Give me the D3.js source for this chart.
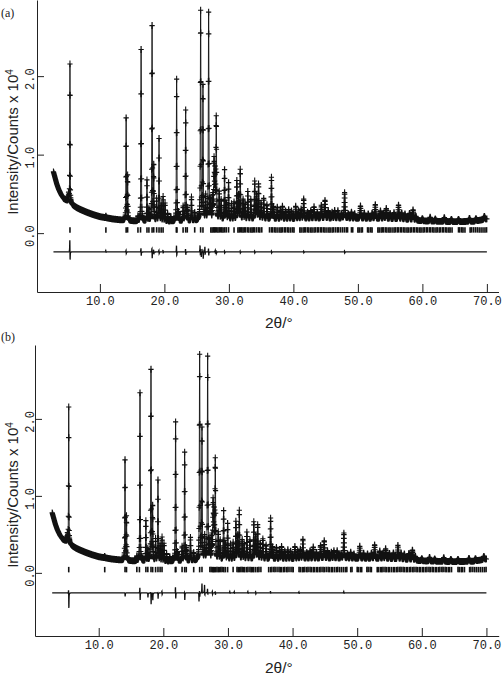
<!DOCTYPE html>
<html>
<head>
<meta charset="utf-8">
<script src="https://cdn.jsdelivr.net/npm/d3@7"></script>
<style>
  body { margin: 0; background: #fff; }
  svg { display: block; }
</style>
</head>
<body>
<script>
// peaks: 2theta (deg) and height above background (x 10^4 counts)
const peakTheta = [5.15, 5.36, 10.93, 14.07, 14.30, 15.90, 16.39, 17.30, 17.60, 18.09, 18.35, 18.80, 19.17, 19.50, 19.80,
  20.10, 20.50, 21.00, 21.90, 22.20, 22.90, 23.30, 23.55, 24.20, 24.70, 25.62, 25.98, 26.40, 26.86, 27.20, 27.50, 27.70,
  27.85, 28.04, 28.50, 28.80, 29.33, 29.60, 29.95, 30.40, 30.80, 31.23, 31.50, 31.76, 32.20, 32.50, 32.93, 33.40, 34.00,
  34.30, 34.60, 35.00, 35.40, 35.90, 36.60, 36.90, 37.50, 38.00, 38.30, 38.80, 39.27, 39.70, 40.36, 40.80, 41.20, 41.60,
  42.20, 42.70, 43.20, 43.70, 44.33, 44.90, 45.40, 46.00, 46.40, 46.90, 47.50, 47.94, 48.50, 49.00, 49.50, 50.40, 51.00,
  51.60, 52.20, 52.70, 53.50, 54.00, 54.40, 55.00, 55.60, 56.30, 56.80, 57.30, 58.00, 58.55, 59.00, 60.00, 61.20, 62.00,
  63.40, 64.50, 65.60, 67.30, 68.30, 69.60];
const peakHeight = [0.10, 1.76, 0.02, 1.36, 0.56, 0.06, 2.28, 0.52, 0.15, 2.58, 0.71, 0.28, 1.09, 0.22, 0.31,
  0.23, 0.10, 0.06, 1.81, 0.10, 0.18, 1.41, 0.15, 0.30, 0.10, 2.66, 1.70, 0.30, 2.64, 0.25, 0.30, 0.74,
  0.60, 1.29, 0.35, 0.25, 0.65, 0.20, 0.48, 0.20, 0.22, 0.50, 0.30, 0.63, 0.25, 0.20, 0.36, 0.25, 0.48,
  0.30, 0.44, 0.20, 0.26, 0.18, 0.53, 0.15, 0.15, 0.10, 0.16, 0.10, 0.12, 0.10, 0.16, 0.10, 0.12, 0.25,
  0.08, 0.10, 0.15, 0.08, 0.17, 0.23, 0.10, 0.08, 0.10, 0.10, 0.06, 0.33, 0.06, 0.08, 0.06, 0.16, 0.07,
  0.06, 0.07, 0.18, 0.10, 0.07, 0.13, 0.07, 0.08, 0.18, 0.08, 0.07, 0.08, 0.13, 0.05, 0.03, 0.05, 0.03,
  0.05, 0.03, 0.03, 0.04, 0.03, 0.04];

// background level read at a few angles
const bgTheta = [2.8, 3.0, 3.3, 3.6, 4.0, 4.4, 4.8, 5.3, 5.6, 6.0, 6.5, 7.0, 8.0, 9.0, 10.0, 11.0, 12.0, 13.0, 14.0,
  16.0, 20.0, 25.0, 30.0, 35.0, 40.0, 45.0, 50.0, 55.0, 58.0, 60.0, 62.0, 65.0, 68.0, 70.0];
const bgValue = [0.78, 0.72, 0.63, 0.56, 0.49, 0.44, 0.42, 0.40, 0.37, 0.345, 0.32, 0.30, 0.265, 0.235, 0.21, 0.195,
  0.18, 0.17, 0.16, 0.15, 0.145, 0.155, 0.165, 0.175, 0.18, 0.185, 0.185, 0.18, 0.17, 0.155, 0.15, 0.145, 0.15, 0.18];

// reflection markers
const reflections = [5.36, 10.93, 14.07, 14.30, 15.90, 16.30, 17.30, 17.60, 18.09, 18.35, 18.80, 19.17, 19.50, 19.80,
  21.85, 21.95, 22.90, 23.30, 23.55, 24.70, 25.62, 25.98, 27.20, 27.40, 27.60, 27.75, 27.90, 28.10, 28.30, 28.50, 28.70,
  28.90, 29.10, 29.35, 29.60, 29.95, 30.80, 31.40, 31.60, 31.80, 32.00, 32.20, 32.40, 32.60, 32.90, 33.10, 33.40, 33.60,
  33.80, 34.00, 34.30, 34.60, 34.80, 35.10, 36.30, 36.60, 36.80, 37.10, 37.30, 37.60, 37.90, 38.10, 38.30, 38.60, 38.80,
  39.10, 39.30, 39.60, 39.90, 40.10, 41.00, 41.20, 41.50, 41.70, 41.90, 42.20, 42.40, 42.70, 42.90, 43.20, 43.40, 43.70,
  43.90, 44.20, 44.40, 44.70, 44.90, 45.20, 45.50, 45.70, 46.00, 46.20, 46.50, 46.80, 47.00, 47.30, 47.60, 47.90, 48.20,
  48.40, 49.00, 49.20, 50.00, 50.20, 50.50, 50.70, 51.50, 51.70, 52.00, 52.20, 53.10, 53.30, 53.60, 53.80, 54.00, 54.30,
  54.50, 54.80, 55.00, 55.30, 55.60, 55.80, 56.10, 56.30, 56.60, 56.80, 57.10, 57.30, 57.60, 57.80, 58.10, 58.30, 58.60,
  58.80, 59.10, 59.30, 59.60, 59.80, 60.10, 60.30, 60.60, 60.80, 61.10, 61.30, 61.60, 61.80, 62.10, 62.30, 62.60, 62.80,
  63.10, 63.30, 63.60, 63.80, 64.10, 64.30, 64.60, 65.60, 65.80, 66.10, 66.30, 66.60, 67.40, 67.60, 67.90, 68.20, 68.50,
  68.80, 69.10, 69.40, 69.70, 69.95];

// difference curve spikes (obs - calc), panel (a) and (b)
const residThetaA = [5.36, 10.93, 14.07, 16.39, 18.09, 18.35, 19.17, 19.80, 21.90, 23.30, 25.55, 25.70, 26.00, 26.30,
  26.86, 27.90, 28.04, 29.33, 31.76, 34.00, 36.60, 41.60, 47.94];
const residUpA = [0.19, 0.02, 0.03, 0.065, 0.07, 0.04, 0.03, 0.03, 0.10, 0.05, 0.10, 0.06, 0.05, 0.08, 0.06, 0.03, 0.03,
  0.02, 0.02, 0.02, 0.02, 0.015, 0.02];
const residDownA = [0.15, 0.01, 0.03, 0.065, 0.10, 0.04, 0.03, 0.02, 0.07, 0.05, 0.06, 0.08, 0.10, 0.05, 0.06, 0.03, 0.03,
  0.02, 0.02, 0.02, 0.02, 0.015, 0.02];
const residThetaB = [5.36, 14.07, 16.39, 17.60, 18.09, 18.35, 19.17, 19.80, 21.90, 23.30, 25.50, 25.62, 26.00, 26.40,
  26.86, 27.60, 28.04, 30.30, 31.00, 33.10, 34.30, 36.60, 41.00, 47.94];
const residUpB = [0.09, 0.01, 0.10, 0.01, 0.05, 0.02, 0.02, 0.03, 0.10, 0.03, 0.02, 0.05, 0.13, 0.12, 0.06, 0.03, 0.02,
  0.02, 0.02, 0.02, 0.02, 0.025, 0.015, 0.02];
const residDownB = [0.22, 0.05, 0.12, 0.06, 0.16, 0.10, 0.08, 0.03, 0.10, 0.10, 0.12, 0.06, 0.03, 0.06, 0.03, 0.03, 0.03,
  0.01, 0.01, 0.01, 0.02, 0.01, 0.01, 0.01];

const xTicks = [10, 20, 30, 40, 50, 60, 70];
const yTicks = [0, 1, 2];

const W = 504, H = 692;
const svg = d3.select('body').append('svg')
    .attr('width', W)
    .attr('height', H);

const bg = d3.scaleLinear().domain(bgTheta).range(bgValue).clamp(true);
const fwhm = t => 0.06 + 0.0018 * t;
function pv(dx, w) {
  const q = 4 * dx * dx / (w * w);
  return 0.5 / (1 + q) + 0.5 * Math.exp(-Math.LN2 * q);
}
function profile(t) {
  let v = bg(t);
  const w = fwhm(t);
  for (let i = 0; i < peakTheta.length; i++) {
    const dx = t - peakTheta[i];
    if (Math.abs(dx) < 3) v += peakHeight[i] * pv(dx, w);
  }
  return v;
}
const obs = d3.range(2.8, 70.001, 0.02).map(t => ({ t, v: profile(t) }));

function diffCurve(thetas, ups, downs, base) {
  const lor = dx => 1 / (1 + 4 * dx * dx / (0.05 * 0.05));
  return d3.range(2.8, 70.001, 0.01).map(t => {
    let v = base;
    for (let i = 0; i < thetas.length; i++) {
      v += ups[i] * lor(t - thetas[i] + 0.02) - downs[i] * lor(t - thetas[i] - 0.02);
    }
    return { t, v };
  });
}

const panels = [
  { tag: '(a)', tagY: 17, top: 0, bottom: 292, left: 37, right: 498.5, tMin: 0.25, tMax: 71.8,
    vTop: 2.97, vBottom: -0.75, diffBase: -0.24, yTitleY: 142, xTitleY: 328,
    rt: residThetaA, ru: residUpA, rd: residDownA },
  { tag: '(b)', tagY: 341, top: 345, bottom: 636, left: 35, right: 498.7, tMin: 0.14, tMax: 71.9,
    vTop: 2.96, vBottom: -0.82, diffBase: -0.26, yTitleY: 495, xTitleY: 673,
    rt: residThetaB, ru: residUpB, rd: residDownB }
];

panels.forEach(p => {
  const x = d3.scaleLinear().domain([p.tMin, p.tMax]).range([p.left, p.right]);
  const y = d3.scaleLinear().domain([p.vBottom, p.vTop]).range([p.bottom, p.top]);
  const g = svg.append('g');

  // axes
  g.append('g')
      .attr('transform', `translate(0,${p.bottom})`)
      .call(d3.axisBottom(x).tickValues(xTicks).tickSizeInner(-8).tickSizeOuter(0).tickPadding(4)
        .tickFormat(d3.format('.1f')))
      .call(a => a.selectAll('text')
        .attr('font-family', '"Liberation Mono", monospace')
        .attr('font-size', '12px')
        .attr('fill', '#222'))
      .call(a => a.selectAll('line,path').attr('stroke', '#222'));

  g.append('g')
      .attr('transform', `translate(${p.left},0)`)
      .call(d3.axisLeft(y).tickValues(yTicks).tickSizeInner(-7).tickSizeOuter(0).tickFormat(''))
      .call(a => a.selectAll('line,path').attr('stroke', '#222'));

  g.selectAll('text.ytick')
    .data(yTicks)
    .join('text')
      .attr('class', 'ytick')
      .attr('transform', d => `translate(34,${y(d) + 3}) rotate(-90)`)
      .attr('text-anchor', 'middle')
      .attr('font-family', '"Liberation Mono", monospace')
      .attr('font-size', '12px')
      .attr('fill', '#222')
      .text(d3.format('.1f'));

  // titles
  const yt = g.append('text')
      .attr('transform', `translate(18,${p.yTitleY}) rotate(-90)`)
      .attr('text-anchor', 'middle')
      .attr('font-family', '"Liberation Sans", Arial, sans-serif')
      .attr('font-size', '15px')
      .attr('fill', '#222');
  yt.append('tspan').text('Intensity/Counts x 10');
  yt.append('tspan').attr('dy', '-0.55em').attr('font-size', '10px').text('4');

  g.append('text')
      .attr('x', 265)
      .attr('y', p.xTitleY)
      .attr('font-family', '"Liberation Sans", Arial, sans-serif')
      .attr('font-size', '15.5px')
      .attr('fill', '#222')
      .text('2θ/°');

  g.append('text')
      .attr('x', 1)
      .attr('y', p.tagY)
      .attr('font-family', '"Liberation Serif", serif')
      .attr('font-size', '12px')
      .attr('fill', '#222')
      .text(p.tag);

  // calculated profile
  g.append('path')
      .datum(obs)
      .attr('fill', 'none')
      .attr('stroke', '#111')
      .attr('stroke-width', 0.9)
      .attr('d', d3.line().x(d => x(d.t)).y(d => y(d.v)));

  // observed points as crosses
  const cp = d3.path();
  obs.forEach(d => {
    const px = x(d.t), py = y(d.v);
    cp.moveTo(px - 2.6, py); cp.lineTo(px + 2.6, py);
    cp.moveTo(px, py - 3.4); cp.lineTo(px, py + 3.4);
  });
  g.append('path')
      .attr('d', cp.toString())
      .attr('fill', 'none')
      .attr('stroke', '#111')
      .attr('stroke-width', 1.1);

  // reflection markers
  g.selectAll('line.refl')
    .data(reflections)
    .join('line')
      .attr('class', 'refl')
      .attr('x1', d => x(d))
      .attr('x2', d => x(d))
      .attr('y1', y(0) - 6)
      .attr('y2', y(0) - 0.5)
      .attr('stroke', '#111')
      .attr('stroke-width', 1.6);

  // difference curve
  g.append('path')
      .datum(diffCurve(p.rt, p.ru, p.rd, p.diffBase))
      .attr('fill', 'none')
      .attr('stroke', '#111')
      .attr('stroke-width', 1.3)
      .attr('d', d3.line().x(d => x(d.t)).y(d => y(d.v)));
});
</script>
</body>
</html>
